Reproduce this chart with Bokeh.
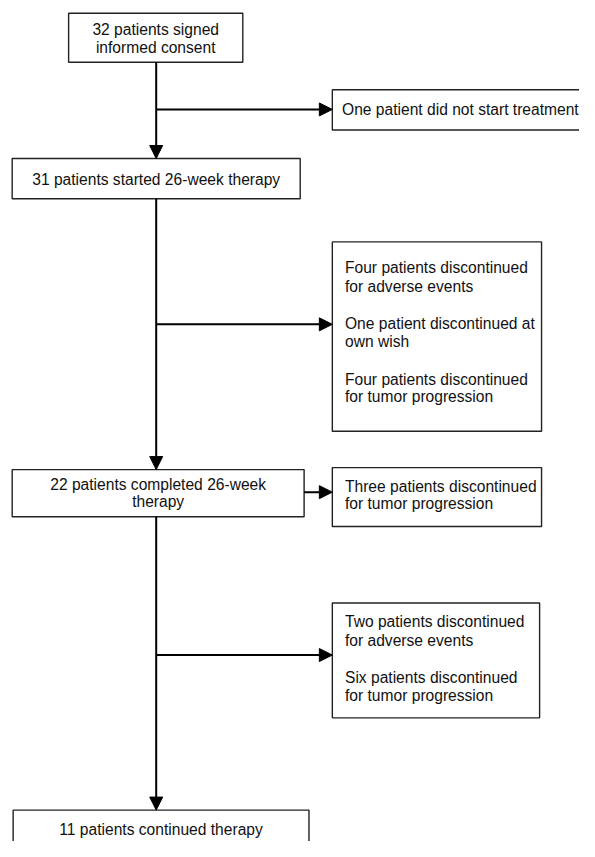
from bokeh.plotting import figure
from bokeh.models import Range1d, Arrow, NormalHead, ColumnDataSource
from bokeh.core.properties import value
from bokeh.embed import file_html
from bokeh.resources import INLINE

# ---- content (texts of the flow chart) ----
main_labels = [
    ["32 patients signed", "informed consent"],
    ["31 patients started 26-week therapy"],
    ["22 patients completed 26-week", "therapy"],
    ["11 patients continued therapy"],
]
side_labels = [
    ["One patient did not start treatment"],
    ["Four patients discontinued", "for adverse events",
     "One patient discontinued at", "own wish",
     "Four patients discontinued", "for tumor progression"],
    ["Three patients discontinued", "for tumor progression"],
    ["Two patients discontinued", "for adverse events",
     "Six patients discontinued", "for tumor progression"],
]

# ---- layout (page pixel coordinates of the reference) ----
main_box = [  # left, right, top, bottom
    (70, 249, 13, 63),
    (12, 308, 161, 202),
    (12, 312, 478, 526),
    (13, 317, 825, 880),
]
main_line_y = [[30, 48], [182], [493, 511], [845]]
side_box = [
    (341, 620, 91, 132),
    (341, 556, 246, 439),
    (341, 556, 476, 536),
    (341, 554, 614, 731),
]
side_line_y = [[111], [272, 291, 329, 347, 386, 404], [495, 513], [633, 652, 690, 708]]
side_text_x = [351, 354, 354, 354]
spine_x = 160
branch_y = [111, 330, None, 667]

W, H = 579, 841
p = figure(width=W, height=H, output_backend="svg", toolbar_location=None,
           x_range=Range1d(0, 595), y_range=Range1d(857, 0),
           min_border=0, outline_line_color=None, background_fill_color="white")
p.axis.visible = False
p.grid.visible = False

FONT = value("Liberation Sans")
FS = "15.6px"

def box_src(boxes):
    return ColumnDataSource(dict(
        left=[b[0] for b in boxes], right=[b[1] for b in boxes],
        top=[b[2] for b in boxes], bottom=[b[3] for b in boxes]))

p.quad(left="left", right="right", top="top", bottom="bottom", source=box_src(main_box),
       fill_color="white", line_color="#222222", line_width=1.4)
p.quad(left="left", right="right", top="top", bottom="bottom", source=box_src(side_box),
       fill_color="white", line_color="#222222", line_width=1.4)

# texts
tx, ty, tt = [], [], []
for b, ys, labs in zip(main_box, main_line_y, main_labels):
    cx = (b[0] + b[1]) / 2
    for yy, s in zip(ys, labs):
        tx.append(cx); ty.append(yy); tt.append(s)
p.text(x=tx, y=ty, text=tt, text_align="center", text_baseline="middle",
       text_font=FONT, text_font_size=FS, text_color="#111111")

sx, sy, st = [], [], []
for x0, ys, labs in zip(side_text_x, side_line_y, side_labels):
    for yy, s in zip(ys, labs):
        sx.append(x0); sy.append(yy); st.append(s)
p.text(x=sx, y=sy, text=st, text_align="left", text_baseline="middle",
       text_font=FONT, text_font_size=FS, text_color="#111111")

def arrow(x0, y0, x1, y1):
    p.add_layout(Arrow(end=NormalHead(size=13, fill_color="black", line_color="black", line_width=1),
                       x_start=x0, y_start=y0, x_end=x1, y_end=y1,
                       line_color="black", line_width=2))

# spine arrows between main boxes
for i in range(len(main_box) - 1):
    arrow(spine_x, main_box[i][3], spine_x, main_box[i + 1][2])

# branch arrows to side boxes
for i, by in enumerate(branch_y):
    if by is None:
        continue
    arrow(spine_x, by, side_box[i][0], by)

# short arrow from box 3 to side box 3
y3 = (main_box[2][2] + main_box[2][3]) / 2 - 1
arrow(main_box[2][1], y3, side_box[2][0], y3)

open("out.html", "w").write(file_html(p, INLINE))
